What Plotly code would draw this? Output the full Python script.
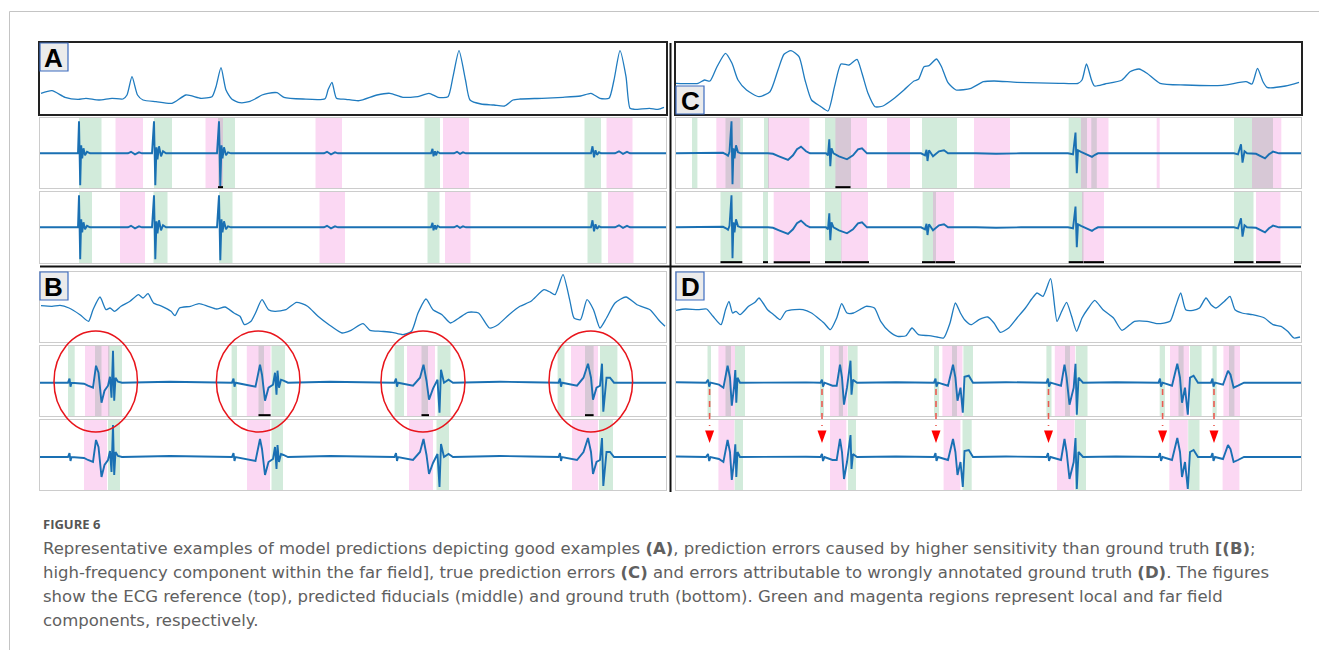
import plotly.graph_objects as go

W, H = 1319, 650

# ------------------------------------------------------------------
# DATA  (time in ms from the start of each strip, amplitudes in a.u.)
# ------------------------------------------------------------------
# Panel A - good examples
a_ecg_t = [1, 12, 25, 38, 46, 59, 72, 83, 87, 92, 97.5, 103, 116, 132, 146, 161, 172, 176, 181, 186,
           192, 200, 209, 215, 222, 228, 237, 244, 263, 285, 288, 292, 296.5, 306, 319, 337, 350, 363, 378, 389,
           398, 408, 413, 419, 425.5, 430, 441, 454, 464.5, 473, 480, 502, 523, 540.5, 551, 560, 569, 574, 580, 586,
           590, 594.5, 609.5, 618, 624]
a_ecg_v = [20.7, 23.3, 16.7, 14.7, 15.7, 14, 15.7, 15, 19, 37.3, 19, 14, 12.3, 10.7, 19, 15.7, 17.3, 27.3, 46.3, 24,
           14.7, 11.3, 12.3, 15, 19, 20.7, 21.3, 16.7, 15, 15.3, 24, 31.7, 15.7, 14.7, 13.3, 19, 20.7, 16.7, 17.3, 20.7,
           16.7, 17.3, 37.3, 63.3, 34, 14, 10, 9, 8, 14, 15, 15.7, 16.7, 18, 20.7, 15.7, 15.7, 34, 63.3, 37.3,
           5.7, 4.7, 5.7, 4.7, 6.7]
a_egm = [(0, 0), (36, 0), (38, 0), (39, 32), (40.2, -32), (41.2, 8), (42.2, -5), (43.5, 5), (45, -2), (47, 1.5), (50, 0),
         (88, 0), (91, 1.5), (95, -1), (99, 1), (102, 0),
         (112, 0), (114, 32), (115.3, -32), (116.5, 6), (117.5, -6), (119, 7), (121, -3), (123, 2), (126, 0),
         (177, 0), (179, 32), (180.3, -33), (181.5, 8), (182.5, -5), (184, 6), (186, -2), (188, 1), (191, 0),
         (284, 0), (287, 1.5), (291, -1), (295, 1), (298, 0),
         (391, 0), (392.5, 4.5), (393.5, -3), (395, 2), (396, -2), (397.5, 1.5), (400, 0),
         (414, 0), (417, 1.5), (420, -0.5), (423, 1), (426, 0),
         (551, 0), (552.5, 7), (554, -4), (555.5, 3), (557, -1.5), (559, 1), (561, 0),
         (575, 0), (579, 2), (583, -0.5), (587, 1.5), (590, 0), (626, 0)]
a_mid_green = [(39, 61.5), (114, 132), (178, 195), (384.5, 400), (544.5, 561)]
a_mid_pink = [(75.5, 103), (165.5, 183), (275.5, 302), (403, 429), (566.5, 592.5)]
a_mid_mark = [(178, 183)]
a_bot_green = [(39, 52), (113.5, 127.5), (179, 192.5), (387.5, 399.5), (547.5, 561.5)]
a_bot_pink = [(80, 105), (279.5, 305), (405, 430.5), (568, 593.5)]
a_bot_mark = []

# Panel C - true prediction errors
c_ecg_t = [0, 22, 28.5, 34, 41, 49.5, 56, 62, 70.5, 83, 94, 102, 108, 115, 123, 129, 135.5, 144, 152, 158.5,
           165, 173, 181, 186, 192, 199, 207, 217, 228, 238, 242.5, 248, 253, 260.5, 265.5, 272, 280, 295, 307.5, 318,
           341, 383, 402, 406, 410.5, 415.5, 418.5, 429, 446, 454, 463, 471, 484, 509, 546.5, 570, 576, 581.5, 587, 591,
           609.5, 623]
c_ecg_v = [30.7, 30.7, 34, 33, 47.3, 60.7, 50.7, 34, 24, 17.3, 22.3, 44, 59.7, 63.3, 57.3, 34, 14, 8, 3, 27.3,
           50, 49, 54.7, 40.7, 20.7, 7.3, 8, 14.7, 24, 33, 34.7, 47.3, 48.3, 55, 47.3, 31.3, 24, 25.7, 32.3, 33,
           31.7, 30.7, 30.7, 34, 50, 34, 28, 30, 34, 42.3, 45, 40.7, 30.7, 29, 28.7, 32.3, 30, 45.7, 32.3, 26.7,
           28, 31.7]
c_egm = [(0, 0), (44, 0), (47, 0.5), (50, -1), (52, -2.5), (53.5, 1.5), (55.5, 32), (56.5, -31), (57.5, 5), (58.5, -5),
         (60, 8), (62, 1), (65, 0),
         (92, 0), (97, -0.5), (103, -3), (112, -6.7), (117, -2), (121, 4), (125, 6.7), (130, 2), (134, 0),
         (150, 0), (152, -2), (153.3, 14), (154.3, -13), (155.5, 5), (157.5, 0), (163, -3), (171, -6), (177, -2),
         (182, 4), (186, 5), (191, 0),
         (245, 0), (249, -2), (250.5, 3.5), (251.5, -7.7), (253, 3), (257, -3), (263, 2), (268, 3), (272, 0),
         (300, 0), (320, -0.5), (345, 0),
         (392, 0), (397, -1), (399.5, 20.7), (400.8, -20), (402, 3), (405, 1.5), (408, 0), (413, -2), (416, -3.5),
         (419, -1.5), (422, 0),
         (558, 0), (562, -1), (565, 9), (566.5, -9.3), (568.5, 2), (571, 0), (580, -0.5), (585, -3), (589, -5),
         (593, -1), (597, 1.7), (603, 0), (625, 0)]
c_mid_green = [(16, 21.4), (49.5, 67), (88, 93), (149, 175), (246, 281), (392.7, 411), (415.3, 420.8), (558, 597)]
c_mid_pink = [(40.3, 64.2), (92, 133.4), (159.4, 191), (211, 234), (298, 334), (405, 432.5), (480.7, 483.7),
              (576, 605.3)]
c_mid_mark = [(159.4, 174.5)]
c_bot_green = [(44.5, 66.3), (87, 92), (149, 165.5), (246.6, 260), (392.7, 407.5), (558, 577.5)]
c_bot_pink = [(97.7, 134), (165, 192), (257, 278), (406, 428), (580, 604.5)]
c_bot_mark = [(44.5, 66.3), (87, 92), (97.7, 134), (149, 165), (165.5, 193), (246, 259.5), (260, 279),
              (392.7, 407.5), (408, 428), (558, 577.5), (580, 604.5)]

# Panel B - higher sensitivity than ground truth
b_ecg_t = [1, 12, 20, 29, 40, 48.5, 53, 60, 66, 70, 74.5, 81, 90, 98.5, 103, 108, 113.5, 122, 131, 135,
           139.5, 150.5, 159, 168, 176.5, 185, 194, 200, 204.5, 211, 215.5, 222, 228.5, 235, 246, 256.5, 267.5, 278,
           289, 302, 311, 323, 330, 341, 352, 363, 371.5, 378, 386, 393, 402, 410.5, 419, 428, 438.5, 449.5, 458,
           469, 480, 491, 504, 510.5, 515, 523, 530, 534, 540.5, 547, 553.5, 560, 566.5, 575, 586, 597, 610, 618.5,
           625]
b_ecg_v = [36.3, 35.7, 36.7, 34, 27.3, 20.7, 32.3, 45, 32.3, 34, 30.7, 35.7, 40.7, 47.3, 44, 48.3, 39, 35.7, 30.7,
           26.3, 34, 35.7, 38.3, 35.7, 33, 35, 29, 25.7, 17.3, 20.7, 29, 42.3, 32.3, 30.7, 32.3, 39.7, 35.7, 25.7,
           17.3, 9, 11.7, 18.3, 11.7, 10.7, 9.7, 7.3, 10.7, 29, 43, 32.3, 27.3, 19, 24, 29.7, 29, 14, 17.3, 27.3,
           35.7, 40.7, 52.3, 49.7, 47.3, 67.3, 40.7, 24, 22.3, 42.3, 32.3, 14, 24, 39, 45, 37.3, 32.3, 22.3, 15.7]
b_egm = [(0, 0), (28, 0), (29.5, 4), (30.5, -4), (31.5, 0), (44, -1), (48, -3), (53, -5), (56, 17), (58.5, 10),
         (61.5, -20), (64.5, -8), (68, -3), (70, 6), (71.5, -15), (73, 32), (74.2, -18), (75.5, 5), (78, 1), (82, 0),
         (130, 1), (160, 0.5), (192, 0), (193.5, 4), (194.5, -4), (195.5, 0), (207, -2), (215.5, -4), (220, 18),
         (222, 8), (225, -18), (228.5, -5), (233, -2), (235, 10), (236.5, -12), (237.5, 12), (239, -5), (241, 3),
         (243.5, 2), (248, 0), (290, 1), (320, 0.5),
         (354.5, 0), (356, 4), (357, -4), (358, 0), (373, -3), (380, 5), (383.5, 18), (386.5, 2), (389, -17),
         (393, -6), (397.5, 3), (399.5, -30), (401, 13), (404, 0), (408.5, 3), (413, 0), (460, 1), (490, 0.5),
         (518.5, 0), (520, 4), (521, -4), (522, 0), (537, -3), (543.5, 5), (548, 19), (551, 5), (553, -17),
         (556.5, -5), (560, -3), (562, 19), (563.3, -29), (566.5, 5), (570, 5), (574, 0), (626, 0)]
b_mid_green = [(28, 34.7), (55, 61.5), (68, 82), (191.6, 197), (218.5, 224), (231.5, 245), (354.6, 364),
               (381.5, 388), (397.5, 410.5), (517.6, 524.5), (545, 553.6), (560, 577.4)]
b_mid_pink = [(45, 69.4), (206.8, 230.6), (367, 395), (531, 558)]
b_mid_mark = [(218.5, 230.6), (381.5, 389), (545, 553.6)]
b_bot_green = [(68, 80), (231.5, 243), (396.5, 409), (559, 573)]
b_bot_pink = [(44, 67), (207, 230), (369, 393), (532, 558)]
b_bot_mark = []
b_circles = [(14, 97.5), (176.4, 260), (341, 425), (509, 592.6)]

# Panel D - wrongly annotated ground truth
d_ecg_t = [0, 9.6, 22, 30.6, 37, 45, 49.5, 53, 56.6, 60, 64, 72.6, 79, 83, 87, 91.5, 97.7, 104, 110, 118.7,
           127, 135.5, 142, 148, 154.4, 160.7, 165.7, 171, 177.5, 183.7, 190, 198.4, 204.7, 213, 221.5, 230, 236,
           242.5, 253, 261, 267.6, 274, 279.4, 284.4, 288.6, 295, 303, 311.7, 318, 324.3, 332.7, 341, 349.4, 355.7,
           361, 367, 374.6, 381, 385, 390.6, 395.6, 400.6, 406, 412.4, 418.7, 427, 437.5, 446, 458.5, 471, 481.6,
           494, 499.6, 504.7, 509.7, 517, 523.5, 530, 535, 540, 548.5, 554, 559, 566, 576.5, 588.5, 597, 605,
           611.6, 618, 624]
d_ecg_v = [31.7, 33, 32.3, 33, 25.7, 17.3, 32.3, 40.7, 29, 30.7, 27.3, 35.7, 39.7, 44, 39, 32.3, 27.3, 22.3, 30.7,
           32.3, 32.3, 29, 24, 19, 12.3, 24, 38.3, 29, 29, 32.3, 35.7, 34, 20.7, 10.7, 5.7, 6.3, 14, 7.3, 6.3, 5,
           4, 19, 39, 29, 22.3, 17.3, 22.3, 25, 19, 9.7, 14, 24, 34, 43, 49, 45.7, 63.3, 20.7, 29, 39.7,
           25.7, 10.7, 24, 34, 41.7, 32.3, 24, 11.7, 20.7, 20.7, 18.3, 20.7, 35.7, 49, 32.3, 31.7, 34, 44, 37.3, 34,
           40.7, 45.7, 32.3, 29, 27.3, 24, 17.3, 15.7, 10.7, 4, 5]
d_egm = [(0, 0.5), (30, 0), (32, 3), (33.2, -4), (34.5, 0), (43, -2), (47.4, -5), (51.6, 17), (54, 5), (55.8, -23),
         (58, -5), (59.3, 12.7), (60.3, -20), (61.5, 5), (64, 0), (100, 0.5), (130, 0.3),
         (144.5, 0), (146, 3), (147, -4), (148.5, 0), (156.5, -3), (160.7, -3), (164, 18), (166, 5), (168, -22),
         (171, -5), (174.5, 22), (175.5, -12), (177, 3), (181, 0), (220, 0.5),
         (258, 0), (259.5, 4), (260.5, -4), (262, 0), (272, -3), (277, 18), (279.4, 5), (281.5, -18), (284.5, -5),
         (286.8, -30), (288.5, 6), (292.8, 7), (297, 0), (330, 0.5),
         (370.5, 0), (372, 4), (373, -4), (374.5, 0), (385, -3), (388.5, 18), (390.6, 5), (393.5, -22), (397.7, -5),
         (399.5, 19), (400.8, -32), (402.5, 5), (407, 0), (440, 0.5),
         (482.5, 0), (484, 4), (485, -4), (486.5, 0), (496, -3), (501.3, 19), (504, 5), (506, -20), (509, -5),
         (511.8, -32), (514, 5), (517.6, 7), (522, 0),
         (535, 0), (536.5, 4), (537.5, -4), (539, 0), (547, -2), (552, 12), (554.5, 8), (557.6, -5), (562, -3),
         (568, 0), (625, 0)]
d_mid_green = [(31.5, 35), (49.5, 55), (59, 69), (144, 148), (162.8, 167), (172, 181.6), (258, 263), (276, 281),
               (287.4, 297), (370.4, 375.5), (389, 394), (399.8, 411.5), (483.7, 489), (502.5, 507.6),
               (514, 525.6), (536.5, 540.7), (553, 558.4)]
d_mid_pink = [(42.4, 59), (154, 171.6), (266.4, 286.5), (378.8, 399), (494, 513), (547.4, 564)]
d_mid_mark = []
d_bot_green = [(58.7, 67), (172, 180), (286.5, 295.7), (399, 410), (512.2, 523.5)]
d_bot_pink = [(42.4, 58.3), (154, 170.3), (267.6, 284.4), (381, 398.5), (493.3, 511.8), (546.6, 563.4)]
d_bot_mark = []
d_arrows = [33.6, 146, 260, 372.5, 486.6, 538]

caption_title = "FIGURE 6"
caption_lines = [
    "Representative examples of model predictions depicting good examples <b>(A)</b>, prediction errors caused "
    "by higher sensitivity than ground truth <b>[(B)</b>;",
    "high-frequency component within the far field], true prediction errors <b>(C)</b> and errors attributable "
    "to wrongly annotated ground truth <b>(D)</b>. The figures",
    "show the ECG reference (top), predicted fiducials (middle) and ground truth (bottom). Green and magenta "
    "regions represent local and far field",
    "components, respectively.",
]

# ------------------------------------------------------------------
# STYLE / LAYOUT
# ------------------------------------------------------------------
ECG_BLUE = "#1f7bbf"
EGM_BLUE = "#1a70b3"
GREEN = "rgb(210,235,219)"
PINK = "rgba(235,60,195,0.2)"


def px_x(p):
    return p / W


def px_y(p):
    return 1 - p / H


LEFT = (40, 666)
RIGHT = (676, 1301)
TOP_ROWS = [(43, 114), (118, 188), (192, 263)]
BOT_ROWS = [(272, 342), (346, 416), (420, 490)]

panels = [
    dict(label="A", cols=LEFT, rows=TOP_ROWS, ecg=(a_ecg_t, a_ecg_v), egm=a_egm,
         yr=[[0, 71], [-34.7, 35.3], [-35.7, 35.3]], ecg_line=("#222222", 1.6),
         regions=[(a_mid_green, a_mid_pink, a_mid_mark), (a_bot_green, a_bot_pink, a_bot_mark)],
         box=(40, 43, 68, 71)),
    dict(label="C", cols=RIGHT, rows=TOP_ROWS, ecg=(c_ecg_t, c_ecg_v), egm=c_egm,
         yr=[[0, 71], [-34.7, 35.3], [-35.7, 35.3]], ecg_line=("#222222", 1.6),
         regions=[(c_mid_green, c_mid_pink, c_mid_mark), (c_bot_green, c_bot_pink, c_bot_mark)],
         box=(676, 86, 704, 114)),
    dict(label="B", cols=LEFT, rows=BOT_ROWS, ecg=(b_ecg_t, b_ecg_v), egm=b_egm,
         yr=[[0, 70], [-33.3, 36.7], [-33, 37]], ecg_line=("#cccccc", 1),
         regions=[(b_mid_green, b_mid_pink, b_mid_mark), (b_bot_green, b_bot_pink, b_bot_mark)],
         box=(40, 272, 68, 300)),
    dict(label="D", cols=RIGHT, rows=BOT_ROWS, ecg=(d_ecg_t, d_ecg_v), egm=d_egm,
         yr=[[0, 70], [-33.3, 36.7], [-33, 37]], ecg_line=("#cccccc", 1),
         regions=[(d_mid_green, d_mid_pink, d_mid_mark), (d_bot_green, d_bot_pink, d_bot_mark)],
         box=(676, 272, 704, 300)),
]

fig = go.Figure()
layout = dict(width=W, height=H, margin=dict(l=0, r=0, t=0, b=0, pad=0), autosize=False,
              paper_bgcolor="white", plot_bgcolor="white", showlegend=False)
annotations = []
green_shapes, pink_shapes, top_shapes = [], [], []

n = 0
for p in panels:
    xr = [0, p["cols"][1] - p["cols"][0]]
    egm_t = [q[0] for q in p["egm"]]
    egm_v = [q[1] for q in p["egm"]]
    for row in range(3):
        n += 1
        sx = "" if n == 1 else str(n)
        top, bot = p["rows"][row]
        if row == 0:
            lc, lw = p["ecg_line"]
        else:
            lc, lw = "#cccccc", 1
        common = dict(showgrid=False, zeroline=False, showticklabels=False, ticks="", showline=True,
                      mirror=True, linecolor=lc, linewidth=lw, fixedrange=True)
        layout["xaxis" + sx] = dict(domain=[px_x(p["cols"][0]), px_x(p["cols"][1])], range=xr,
                                    anchor="y" + sx, **common)
        layout["yaxis" + sx] = dict(domain=[px_y(bot), px_y(top)], range=p["yr"][row],
                                    anchor="x" + sx, **common)
        if row == 0:
            fig.add_trace(go.Scatter(x=p["ecg"][0], y=p["ecg"][1], xaxis="x" + sx, yaxis="y" + sx,
                                     mode="lines", line=dict(color=ECG_BLUE, width=1.3, shape="spline",
                                                             smoothing=0.6),
                                     hoverinfo="skip"))
        else:
            fig.add_trace(go.Scatter(x=egm_t, y=egm_v, xaxis="x" + sx, yaxis="y" + sx,
                                     mode="lines", line=dict(color=EGM_BLUE, width=1.9),
                                     hoverinfo="skip"))
            greens, pinks, marks = p["regions"][row - 1]
            for (t0, t1) in greens:
                green_shapes.append(dict(type="rect", xref="x" + sx, yref="y" + sx + " domain",
                                         x0=t0, x1=t1, y0=0, y1=1, fillcolor=GREEN,
                                         line=dict(width=0), layer="below"))
            for (t0, t1) in pinks:
                pink_shapes.append(dict(type="rect", xref="x" + sx, yref="y" + sx + " domain",
                                        x0=t0, x1=t1, y0=0, y1=1, fillcolor=PINK,
                                        line=dict(width=0), layer="below"))
            for (t0, t1) in marks:
                top_shapes.append(dict(type="line", xref="x" + sx, yref="y" + sx + " domain",
                                       x0=t0, x1=t1, y0=0.012, y1=0.012,
                                       line=dict(color="black", width=2), layer="above"))
    # panel label box
    x0, y0, x1, y1 = p["box"]
    top_shapes.append(dict(type="rect", xref="paper", yref="paper", x0=px_x(x0), x1=px_x(x1),
                           y0=px_y(y1), y1=px_y(y0), fillcolor="#ebebeb",
                           line=dict(color="#3d6cc0", width=1.2), layer="above"))
    annotations.append(dict(xref="paper", yref="paper", x=px_x((x0 + x1) / 2), y=px_y((y0 + y1) / 2 + 1),
                            text="<b>%s</b>" % p["label"], showarrow=False, xanchor="center",
                            yanchor="middle",
                            font=dict(family="Liberation Sans, Arial, sans-serif", size=26, color="black")))

# red ellipses (panel B, middle strip axis = x8)
for (t0, t1) in b_circles:
    top_shapes.append(dict(type="circle", xref="x8", yref="paper", x0=t0, x1=t1,
                           y0=px_y(432), y1=px_y(331), line=dict(color="#e8141b", width=1.5),
                           layer="above"))

# red dashed arrows (panel D, middle strip axis = x11)
for t in d_arrows:
    top_shapes.append(dict(type="line", xref="x11", yref="paper", x0=t, x1=t,
                           y0=px_y(389), y1=px_y(426), line=dict(color="#ea5a52", width=1.6, dash="6px,6px"),
                           layer="above"))
    top_shapes.append(dict(type="path", xref="x11", yref="paper",
                           path="M %f,%f L %f,%f L %f,%f Z" % (t - 4.5, px_y(430.5), t + 4.5, px_y(430.5),
                                                                t, px_y(443)),
                           fillcolor="#ff0000", line=dict(width=0), layer="above"))

# separators between panels
top_shapes.append(dict(type="line", xref="paper", yref="paper", x0=px_x(670.5), x1=px_x(670.5),
                       y0=px_y(492), y1=px_y(43), line=dict(color="#111111", width=2)))
top_shapes.append(dict(type="line", xref="paper", yref="paper", x0=px_x(40), x1=px_x(1301),
                       y0=px_y(266.5), y1=px_y(266.5), line=dict(color="#111111", width=2)))

# page frame lines
top_shapes.append(dict(type="line", xref="paper", yref="paper", x0=px_x(9.5), x1=1,
                       y0=px_y(11.5), y1=px_y(11.5), line=dict(color="#c4c4c4", width=1)))
top_shapes.append(dict(type="line", xref="paper", yref="paper", x0=px_x(9.5), x1=px_x(9.5),
                       y0=0, y1=px_y(11.5), line=dict(color="#c4c4c4", width=1)))

layout["shapes"] = green_shapes + pink_shapes + top_shapes

# caption
annotations.append(dict(xref="paper", yref="paper", x=px_x(41), y=px_y(524), xanchor="left", yanchor="middle",
                        text="<b>%s</b>" % caption_title, showarrow=False,
                        font=dict(family="Open Sans, sans-serif", size=13, color="#555555")))
for i, line in enumerate(caption_lines):
    annotations.append(dict(xref="paper", yref="paper", x=px_x(41), y=px_y(548 + i * 24.2),
                            xanchor="left", yanchor="middle", text=line, showarrow=False,
                            font=dict(family="DejaVu Sans, sans-serif", size=16.5, color="#606060")))
layout["annotations"] = annotations

fig.update_layout(**layout)
fig.write_html("out.html", config={"displayModeBar": False},
               post_script="document.body.style.margin='0';")
